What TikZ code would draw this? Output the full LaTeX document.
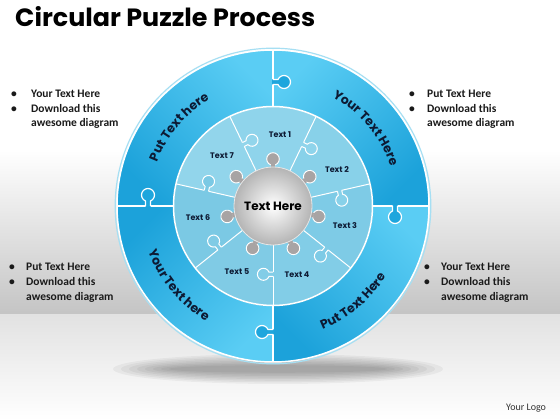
\documentclass[tikz,border=0pt]{standalone}
\usepackage{fontspec}
\usepackage{graphicx}
\setmainfont{Carlito}
\newfontfamily\geo{Poppins}
\usetikzlibrary{decorations.text}
\newcommand\ringfont{\geo\bfseries\fontsize{12.5}{14}\selectfont}
\definecolor{ringlight}{HTML}{5ACDF4}
\definecolor{ringdark}{HTML}{1CA2DA}
\definecolor{knobblue}{HTML}{1EA6DD}
\definecolor{halo}{HTML}{A6DFF3}
\definecolor{navy}{HTML}{0D1A33}
\definecolor{knobgray}{HTML}{A8A4A4}
\definecolor{hubgray}{HTML}{B4B4B4}
\definecolor{hubedge}{HTML}{E6E6E6}
\definecolor{segA}{HTML}{82CDE7}
\definecolor{segB}{HTML}{7ECBE6}
\definecolor{segC}{HTML}{88D1E9}
\definecolor{segD}{HTML}{8FD4EB}
\definecolor{segE}{HTML}{92D5EB}
\definecolor{segF}{HTML}{7BC9E4}
\definecolor{segG}{HTML}{80CBE5}
\definecolor{bandgray}{HTML}{C4C4C4}
\definecolor{floorgray}{HTML}{E2E2E2}
\definecolor{txt}{HTML}{1A1A1A}
\definecolor{logo}{HTML}{333333}
\begin{document}
\begin{tikzpicture}[x=1pt,y=1pt,
  bul/.style={anchor=base, inner sep=0, font=\bfseries\fontsize{11.5}{14}\selectfont, text=txt},
  btxt/.style={anchor=base west, inner sep=0, font=\bfseries\fontsize{11.5}{14}\selectfont, text=txt},
  seglabel/.style={inner sep=0, font=\geo\bfseries\fontsize{8}{9}\selectfont, text=navy},
  sep/.style={white, line width=1.5pt},
  ringtext/.style={decorate, decoration={text along path, text align=center, text color=navy, text={|\ringfont|#1}}}
]
% background
\fill[white] (0,0) rectangle (560,420);
\fill[top color=white, bottom color=bandgray] (0,105) rectangle (560,270);
\fill[top color=floorgray, bottom color=white] (0,0) rectangle (560,105);
\useasboundingbox (0,0) rectangle (560,420);
% shadow
\foreach \i in {0,...,7} \fill[black, opacity=0.045] (278,51) ellipse ({165-8*\i} and {15-1.6*\i});

\begin{scope}[shift={(273,214)}]
% outer ring pieces
\fill[top color=ringlight, bottom color=ringdark, shading angle=-45] (90:156) arc[start angle=90,end angle=180,radius=156] -- (180:100) arc[start angle=180,end angle=90,radius=100] -- cycle;
\fill[top color=ringlight, bottom color=ringdark, shading angle=45] (0:156) arc[start angle=0,end angle=90,radius=156] -- (90:100) arc[start angle=90,end angle=0,radius=100] -- cycle;
\fill[top color=ringlight, bottom color=ringdark, shading angle=-45] (270:156) arc[start angle=270,end angle=360,radius=156] -- (0:100) arc[start angle=360,end angle=270,radius=100] -- cycle;
\fill[top color=ringdark, bottom color=ringlight, shading angle=45] (180:156) arc[start angle=180,end angle=270,radius=156] -- (270:100) arc[start angle=270,end angle=180,radius=100] -- cycle;
% inner segments
\foreach \k/\c in {0/segA,1/segB,2/segC,3/segD,4/segE,5/segF,6/segG}{
  \pgfmathsetmacro\a{-90+\k*360/7}
  \pgfmathsetmacro\b{\a+360/7}
  \fill[\c] (0,0) -- (\a:99.5) arc[start angle=\a, end angle=\b, radius=99.5] -- cycle;
}
\draw[sep] (0,0) circle (99.5);
\draw[sep] (0,0) circle (156);
\draw[line width=1.2pt, halo] (0,0) circle (157.8);
\foreach \a in {0,90,180,270} \draw[sep] (\a:100) -- (\a:156);
\foreach \k in {0,...,6}{
  \pgfmathsetmacro\a{-90+\k*360/7}
  \draw[white, line width=1pt] (\a:38) -- (\a:99.5);
}
% outer knobs
\foreach \ox/\oy/\rot in {0/124/0, -125/0/90, 122/0/-90, 0/-126/180}{
  \begin{scope}[shift={(\ox,\oy)}, rotate=\rot]
    \fill[knobblue] (-1,2.5) -- (5,2.5) arc[start angle=157.4,end angle=-157.4,radius=6.5] -- (-1,-2.5) -- cycle;
    \draw[white, line width=1.2pt] (0,2.5) -- (5,2.5) arc[start angle=157.4,end angle=-157.4,radius=6.5] -- (0,-2.5);
  \end{scope}
}
% inner knobs
\foreach \k/\c in {0/segA,1/segB,2/segC,3/segD,4/segE,5/segF,6/segG}{
  \pgfmathsetmacro\a{-90+\k*360/7}
  \begin{scope}[rotate=\a-90, shift={(0,68.3)}]
    \fill[\c] (-1,2.2) -- (4.02,2.2) arc[start angle=158.5,end angle=-158.5,radius=6] -- (-1,-2.2) -- cycle;
    \draw[white, line width=1pt] (0,2.2) -- (4.02,2.2) arc[start angle=158.5,end angle=-158.5,radius=6] -- (0,-2.2);
  \end{scope}
}
% hub knobs
\foreach \m in {0,...,6}{
  \pgfmathsetmacro\a{90-\m*360/7}
  \begin{scope}[rotate=\a]
    \draw[white, fill=knobgray, line width=0.9pt] (47,0) circle (6.3);
    \fill[knobgray] (36,-2.4) rectangle (41.6,2.4);
  \end{scope}
}
\node[circle, minimum size=78pt, inner sep=0, draw=hubedge, line width=0.8pt, inner color=white, outer color=hubgray, font=\geo\bfseries\fontsize{12}{14}\selectfont, text=black] (hub) at (0,0) {Text Here};
% segment labels
\node[seglabel] (s1) at (7,71) {Text 1};
\node[seglabel] (s2) at (64,36) {Text 2};
\node[seglabel] (s3) at (72,-20) {Text 3};
\node[seglabel] (s4) at (24,-69) {Text 4};
\node[seglabel] (s5) at (-36,-66) {Text 5};
\node[seglabel] (s6) at (-75,-12) {Text 6};
\node[seglabel] (s7) at (-51,50) {Text 7};
% ring labels
\path[ringtext={Put Text here}] (180:124) arc[start angle=180,end angle=100,radius=124];
\path[ringtext={Your Text Here}] (80:124) arc[start angle=80,end angle=0,radius=124];
\path[ringtext={Your Text here}] (180:133) arc[start angle=180,end angle=260,radius=133];
\path[ringtext={Put Text Here}] (270:133) arc[start angle=270,end angle=350,radius=133];
\end{scope}

% title
\node[anchor=base west, inner sep=0] (title) at (15,393) {\resizebox{300pt}{20pt}{\geo\bfseries Circular Puzzle Process}};
% bullets top-left
\node[bul] (tlb1) at (14,322) {•}; \node[btxt] (tlt1) at (31,322) {Your Text Here};
\node[bul] (tlb2) at (14,307.5) {•}; \node[btxt] (tlt2) at (31,307.5) {Download this};
\node[btxt] (tlt3) at (31,293) {awesome diagram};
% top-right
\node[bul] (trb1) at (412,322) {•}; \node[btxt] (trt1) at (427,322) {Put Text Here};
\node[bul] (trb2) at (412,307.5) {•}; \node[btxt] (trt2) at (427,307.5) {Download this};
\node[btxt] (trt3) at (427,293) {awesome diagram};
% bottom-left
\node[bul] (blb1) at (12,149) {•}; \node[btxt] (blt1) at (26,149) {Put Text Here};
\node[bul] (blb2) at (12,134) {•}; \node[btxt] (blt2) at (26,134) {Download this};
\node[btxt] (blt3) at (26,119) {awesome diagram};
% bottom-right
\node[bul] (brb1) at (427,149) {•}; \node[btxt] (brt1) at (441,149) {Your Text Here};
\node[bul] (brb2) at (427,134) {•}; \node[btxt] (brt2) at (441,134) {Download this};
\node[btxt] (brt3) at (441,119) {awesome diagram};
% logo
\node[anchor=base west, inner sep=0, font=\fontsize{10}{12}\selectfont, text=logo] (logo) at (506,9) {Your Logo};
\end{tikzpicture}
\end{document}
